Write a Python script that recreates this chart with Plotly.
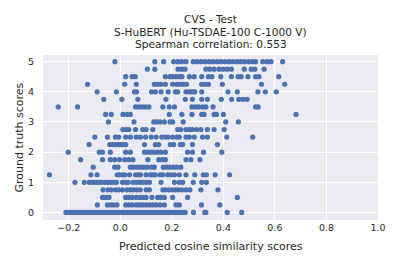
import plotly.graph_objects as go

# Ground-truth score levels and predicted cosine similarities read per level
levels = [5.0, 4.75, 4.5, 4.25, 4.0, 3.75, 3.5, 3.25, 3.0, 2.75, 2.5,
          2.25, 2.0, 1.75, 1.5, 1.25, 1.0, 0.75, 0.5, 0.25, 0.0]

r500 = [-0.021, 0.134, 0.168, 0.207, 0.223, 0.238, 0.255, 0.283, 0.298, 0.314, 0.329, 0.345, 0.360, 0.376,
        0.391, 0.406, 0.422, 0.437, 0.453, 0.467, 0.482, 0.498, 0.513, 0.525, 0.553, 0.570, 0.585, 0.630]
r475 = [0.105, 0.134, 0.224, 0.239, 0.251, 0.332, 0.347, 0.364, 0.383, 0.399, 0.415, 0.431, 0.481, 0.508,
        0.522, 0.558]
r450 = [0.021, 0.046, 0.058, 0.175, 0.193, 0.203, 0.216, 0.229, 0.239, 0.268, 0.287, 0.316, 0.342, 0.355,
        0.390, 0.431, 0.457, 0.469, 0.495, 0.525, 0.538, 0.615]
r425 = [-0.127, 0.017, 0.062, 0.132, 0.145, 0.158, 0.175, 0.203, 0.219, 0.232, 0.244, 0.257, 0.316, 0.329,
        0.342, 0.396, 0.548, 0.638]
r400 = [-0.090, -0.015, 0.055, 0.063, 0.121, 0.136, 0.158, 0.186, 0.214, 0.223, 0.255, 0.265, 0.274, 0.283,
        0.289, 0.316, 0.418, 0.454, 0.534, 0.563, 0.605]
r375 = [-0.064, 0.006, 0.068, 0.177, 0.252, 0.280, 0.316, 0.338, 0.392, 0.432, 0.460, 0.476, 0.492]
r350 = [-0.241, -0.166, 0.059, 0.072, 0.085, 0.098, 0.111, 0.165, 0.190, 0.210, 0.278, 0.291, 0.304, 0.319,
        0.332, 0.360, 0.525, 0.535]
r325 = [-0.057, -0.035, 0.010, 0.026, 0.039, 0.190, 0.239, 0.278, 0.316, 0.325, 0.364, 0.373, 0.400, 0.682]
r300 = [-0.046, 0.053, 0.130, 0.141, 0.154, 0.171, 0.193, 0.203, 0.244, 0.409, 0.458]
r275 = [0.010, 0.023, 0.033, 0.059, 0.087, 0.100, 0.126, 0.223, 0.235, 0.255, 0.268, 0.280, 0.296, 0.313,
        0.338, 0.364, 0.403]
r250 = [-0.099, -0.050, -0.019, -0.006, 0.021, 0.039, 0.062, 0.078, 0.098, 0.120, 0.139, 0.161, 0.174, 0.186,
        0.203, 0.219, 0.229, 0.255, 0.268, 0.287, 0.319, 0.338, 0.413, 0.514]
r225 = [-0.121, -0.041, -0.031, -0.021, -0.010, 0.0, 0.010, 0.021, 0.094, 0.136, 0.149, 0.194, 0.207, 0.233,
        0.242, 0.280, 0.377]
r200 = [-0.202, -0.082, -0.069, -0.039, 0.021, 0.039, 0.094, 0.107, 0.120, 0.132, 0.145, 0.158, 0.175, 0.261,
        0.280, 0.323, 0.394]
r175 = [-0.154, -0.069, -0.039, -0.022, -0.003, 0.017, 0.033, 0.049, 0.107, 0.149, 0.162, 0.175, 0.255, 0.274,
        0.309]
r150 = [-0.105, -0.022, -0.009, 0.039, 0.051, 0.064, 0.077, 0.090, 0.103, 0.120, 0.132, 0.167, 0.180, 0.193,
        0.206, 0.219, 0.235]
r125 = [-0.275, -0.114, -0.090, -0.012, -0.003, 0.008, 0.017, 0.036, 0.059, 0.069, 0.078, 0.100, 0.117, 0.126,
        0.136, 0.154, 0.165, 0.184, 0.197, 0.210, 0.229, 0.255, 0.289, 0.322, 0.334, 0.368, 0.424]
r100 = [-0.176, -0.140, -0.121, -0.112, -0.103, -0.093, -0.082, -0.072, -0.060, -0.048, -0.037, -0.026, -0.015,
        0.008, 0.021, 0.030, 0.049, 0.062, 0.075, 0.087, 0.100, 0.113, 0.158, 0.210, 0.229, 0.242, 0.283, 0.316,
        0.334]
r075 = [-0.067, -0.048, -0.035, -0.018, -0.005, 0.008, 0.026, 0.039, 0.051, 0.064, 0.077, 0.100, 0.113, 0.165,
        0.175, 0.188, 0.201, 0.214, 0.226, 0.239, 0.255, 0.270, 0.313, 0.379]
r050 = [-0.069, -0.057, -0.044, 0.021, 0.033, 0.046, 0.062, 0.075, 0.087, 0.100, 0.123, 0.145, 0.158, 0.171,
        0.203, 0.261, 0.454]
r025 = [-0.089, -0.050, -0.037, -0.026, -0.013, 0.021, 0.033, 0.046, 0.062, 0.075, 0.087, 0.100, 0.113, 0.126,
        0.139, 0.154, 0.171, 0.216, 0.229, 0.315, 0.386]
r000 = [-0.211, -0.203, -0.196, -0.187, -0.178, -0.171, -0.162, -0.154, -0.146, -0.139, -0.131, -0.122, -0.115,
        -0.106, -0.098, -0.091, -0.083, -0.074, -0.067, -0.058, -0.051, -0.043, -0.034, -0.027, -0.018, -0.011,
        -0.002, 0.006, 0.013, 0.022, 0.029, 0.038, 0.045, 0.054, 0.061, 0.070, 0.077, 0.086, 0.093, 0.102, 0.109,
        0.118, 0.125, 0.134, 0.141, 0.150, 0.157, 0.166, 0.173, 0.182, 0.189, 0.198, 0.205, 0.214, 0.221, 0.230,
        0.237, 0.246, 0.252, 0.284, 0.328, 0.332, 0.415, 0.471]

rows = [r500, r475, r450, r425, r400, r375, r350, r325, r300, r275, r250,
        r225, r200, r175, r150, r125, r100, r075, r050, r025, r000]

x_ticks = [-0.2, 0.0, 0.2, 0.4, 0.6, 0.8, 1.0]
y_ticks = [0, 1, 2, 3, 4, 5]

title_lines = ["CVS - Test", "S-HuBERT (Hu-TSDAE-100 C-1000 V)", "Spearman correlation: 0.553"]

pred = []
truth = []
for lvl, xs in zip(levels, rows):
    pred.extend(xs)
    truth.extend([lvl] * len(xs))

FONT = "DejaVu Sans"
TXT = "#262626"

# the page body adds an 8px offset on the left and top; size the figure to fit
fig = go.Figure(go.Scatter(
    x=pred, y=truth, mode="markers",
    marker=dict(color="#4C72B0", size=5.2, line=dict(width=0)),
    showlegend=False, hoverinfo="skip"))

fig.update_layout(
    width=391, height=258,
    margin=dict(l=35, r=21, t=47, b=46, autoexpand=False),
    paper_bgcolor="white", plot_bgcolor="#EAEAF2",
    font=dict(family=FONT, size=9.5, color=TXT),
)
fig.update_xaxes(range=[-0.3, 1.0], tickvals=x_ticks, tickformat=".1f",
                 showgrid=True, gridcolor="white", gridwidth=1, zeroline=False,
                 showline=False, ticks="", tickfont=dict(size=9.5, color=TXT),
                 automargin=False)
fig.update_yaxes(range=[-0.25, 5.22], tickvals=y_ticks,
                 showgrid=True, gridcolor="white", gridwidth=1, zeroline=False,
                 showline=False, ticks="", tickfont=dict(size=9.5, color=TXT),
                 ticklabelstandoff=8, automargin=False)

title_y = [1.2164, 1.1418, 1.0673]
for t, yy in zip(title_lines, title_y):
    fig.add_annotation(text=t, x=0.5, y=yy, xref="paper", yref="paper",
                       xanchor="center", yanchor="middle", showarrow=False,
                       font=dict(family=FONT, size=10.6, color=TXT))

fig.add_annotation(text="Predicted cosine similarity scores", x=0.5, y=-0.162,
                   xref="paper", yref="paper", xanchor="center", yanchor="middle",
                   showarrow=False, font=dict(family=FONT, size=11, color=TXT))
fig.add_annotation(text="Ground truth scores", x=-0.0687, y=0.5, textangle=-90,
                   xref="paper", yref="paper", xanchor="center", yanchor="middle",
                   showarrow=False, font=dict(family=FONT, size=11, color=TXT))

fig.write_html("out.html")
